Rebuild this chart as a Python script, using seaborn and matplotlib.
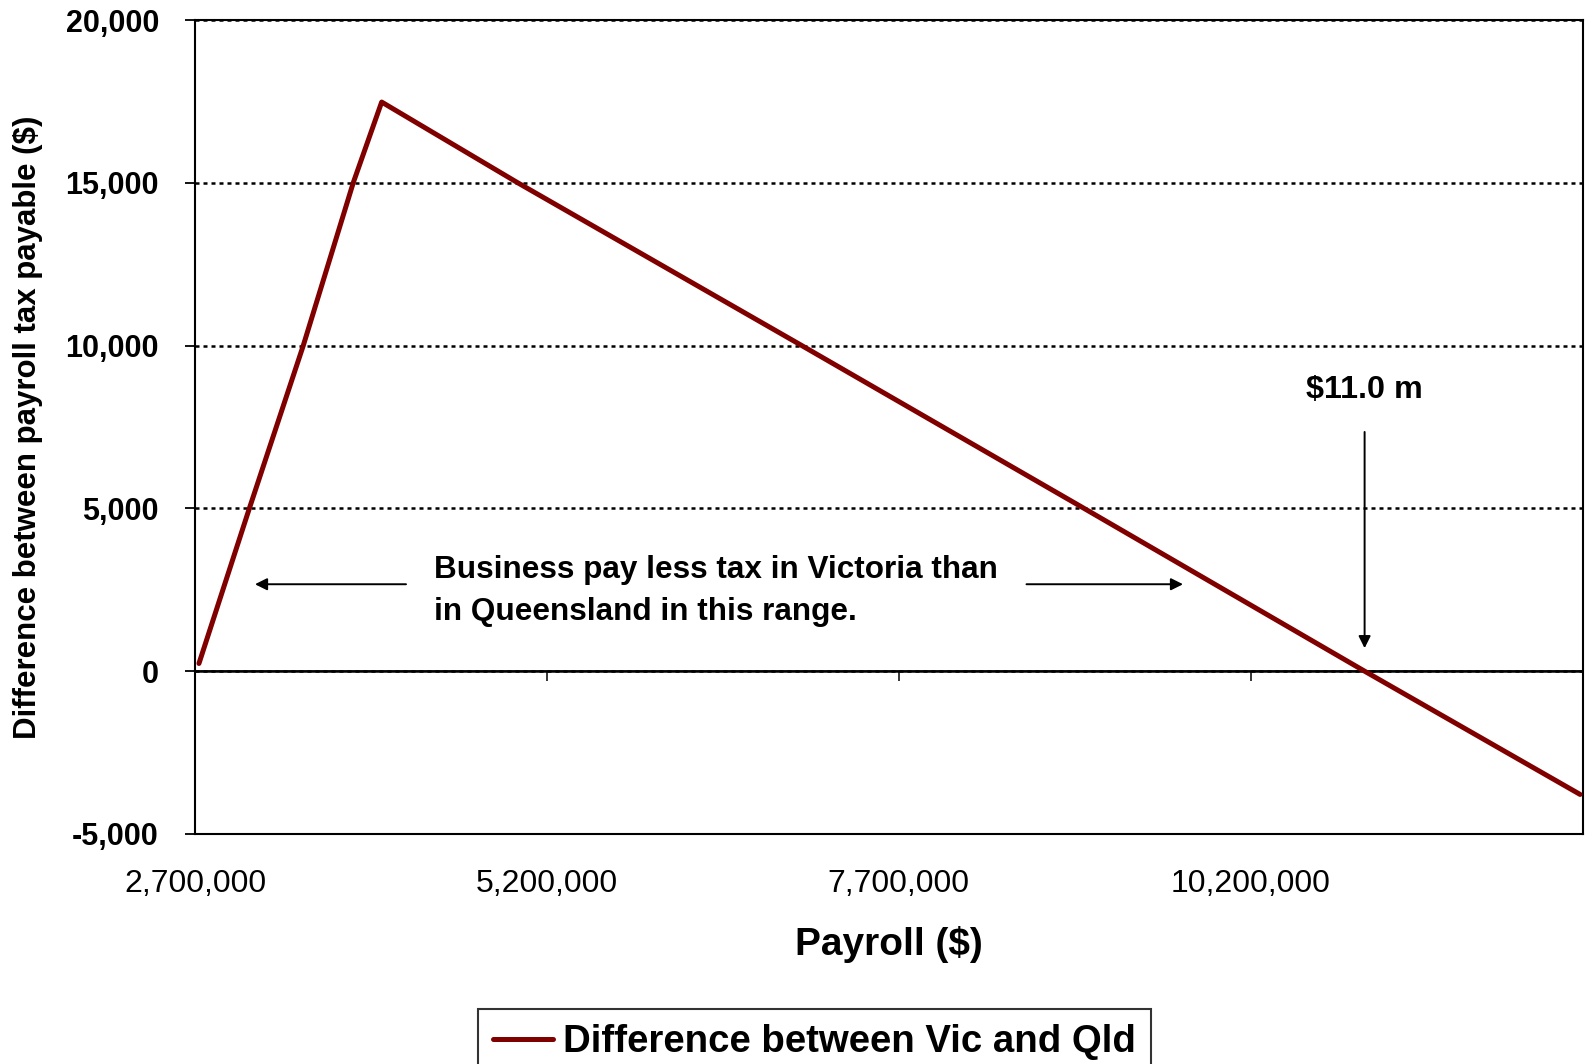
import pandas as pd
import matplotlib.pyplot as plt
import matplotlib.ticker as mticker
import seaborn as sns

# values
payroll = [2728000, 3086000, 3469000, 3824000, 4026000, 4993000, 7011000, 9016000, 11009000, 12540000]
difference = [236, 5000, 10000, 15000, 17480, 15000, 10000, 5000, 0, -3786]
x_ticks = [2700000, 5200000, 7700000, 10200000]
y_ticks = [-5000, 0, 5000, 10000, 15000, 20000]
series_name = 'Difference between Vic and Qld'
crossover = 11009000

sns.set_theme(style='white')
plt.rcParams['font.family'] = ['Liberation Sans', 'DejaVu Sans']
plt.rcParams['text.color'] = 'black'
plt.rcParams['axes.labelcolor'] = 'black'

df = pd.DataFrame({'payroll': payroll, 'difference': difference})

fig = plt.figure(figsize=(15.92, 10.64), dpi=100)
ax = fig.add_axes([0.1225, 0.2162, 0.8718, 0.7650])

sns.lineplot(data=df, x='payroll', y='difference', color='#800000', linewidth=3.6,
             sort=False, label=series_name, ax=ax, zorder=3)

ax.set_xlim(2700000, 12560000)
ax.set_ylim(-5000, 20000)
ax.set_yticks(y_ticks)
ax.set_xticks(x_ticks)
ax.yaxis.set_major_formatter(mticker.FuncFormatter(lambda v, p: f'{v:,.0f}'))
ax.xaxis.set_major_formatter(mticker.FuncFormatter(lambda v, p: f'{v:,.0f}'))

ax.yaxis.grid(True, linestyle=(0, (1.6, 1.6)), color='black', linewidth=1.8)
ax.xaxis.grid(False)
# solid zero line drawn over the dotted grid
ax.axhline(0, color='black', linewidth=1.8, zorder=2.5)

for s in ax.spines.values():
    s.set_color('black')
    s.set_linewidth(1.5)

ax.tick_params(axis='y', which='major', left=True, direction='out', length=7, width=1.3,
               pad=19, labelsize=22, colors='black')
ax.tick_params(axis='x', which='major', bottom=False, length=0, pad=25, labelsize=23,
               colors='black')
for lbl in ax.get_yticklabels():
    lbl.set_fontweight('bold')

# tick marks hanging from the zero line
sec = ax.secondary_xaxis(0.2)
sec.set_xticks(x_ticks)
sec.tick_params(axis='x', direction='out', length=7, width=1.3, labelbottom=False)
sec.spines['bottom'].set_linewidth(1.2)

ax.set_xlabel('Payroll ($)', fontsize=28, fontweight='bold', labelpad=20)
ax.set_ylabel('Difference between payroll tax payable ($)', fontsize=22.5, fontweight='bold',
              labelpad=16)

# annotations
arrow = dict(arrowstyle='-|>', color='black', lw=1.4, mutation_scale=18, shrinkA=0, shrinkB=0)
ax.annotate('', xy=(3126000, 2670), xytext=(4199000, 2670), arrowprops=arrow)
ax.annotate('', xy=(9719000, 2670), xytext=(8607000, 2670), arrowprops=arrow)
ax.text(4401000, 2460, 'Business pay less tax in Victoria than\nin Queensland in this range.',
        fontsize=22.7, fontweight='bold', ha='left', va='center', linespacing=1.5)
ax.annotate('', xy=(crossover, 706), xytext=(crossover, 7347), arrowprops=arrow)
ax.text(crossover, 8627, '$11.0 m', fontsize=23.2, fontweight='bold', ha='center', va='center')

leg = ax.legend(loc='upper left', bbox_to_anchor=(0.3002, 0.0517), bbox_transform=fig.transFigure,
                fontsize=27.6, frameon=True, fancybox=False, borderaxespad=0, borderpad=0.4,
                handlelength=1.57, handletextpad=0.25)
leg.get_frame().set_edgecolor('black')
leg.get_frame().set_linewidth(1.5)
for t in leg.get_texts():
    t.set_fontweight('bold')
    t.set_color('black')

plt.savefig('out.png', dpi=100)
plt.close()
